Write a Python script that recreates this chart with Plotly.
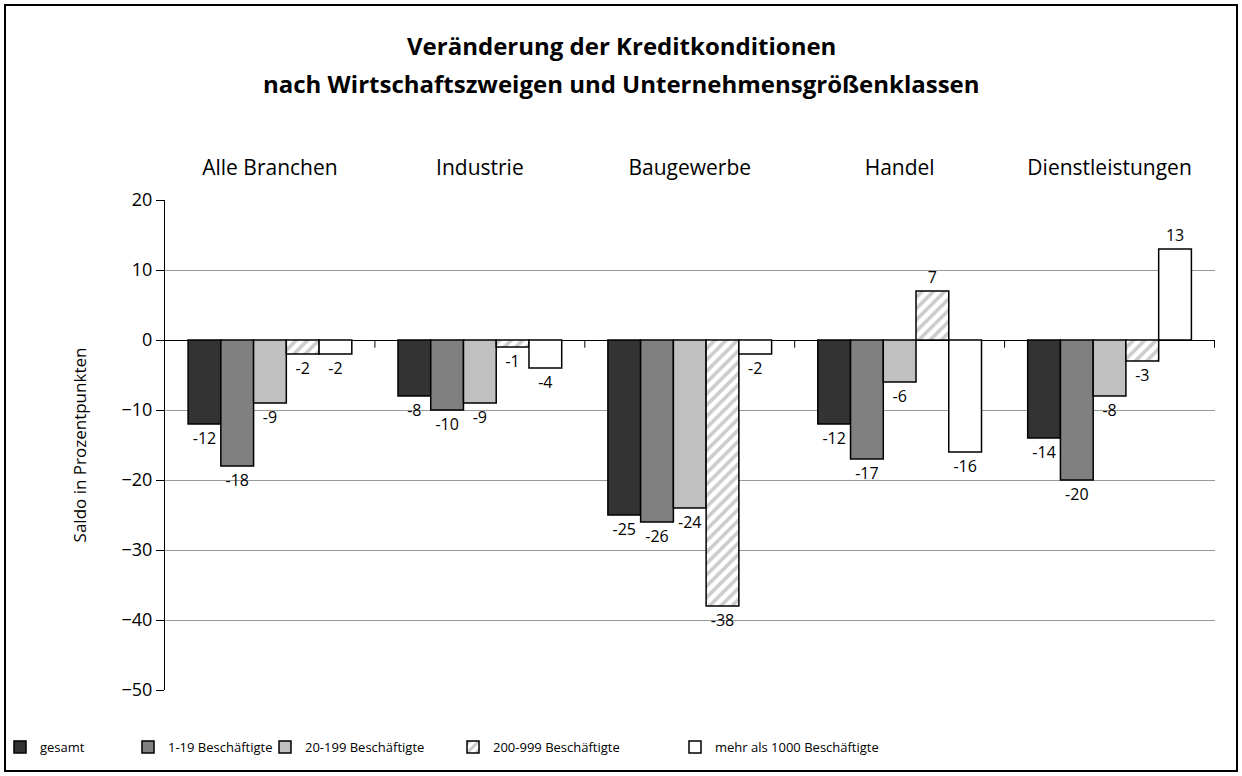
import plotly.graph_objs as go

# categories and series
branches = ['Alle Branchen', 'Industrie', 'Baugewerbe', 'Handel', 'Dienstleistungen']
gesamt = [-12, -8, -25, -12, -14]
b_1_19 = [-18, -10, -26, -17, -20]
b_20_199 = [-9, -9, -24, -6, -8]
b_200_999 = [-2, -1, -38, 7, -3]
b_1000 = [-2, -4, -2, -16, 13]

series_names = ['gesamt', '1-19 Beschäftigte', '20-199 Beschäftigte',
                '200-999 Beschäftigte', 'mehr als 1000 Beschäftigte']
series_values = [gesamt, b_1_19, b_20_199, b_200_999, b_1000]
fills = ['#333333', '#808080', '#c0c0c0', 'white', 'white']
title_lines = ['Veränderung der Kreditkonditionen',
               'nach Wirtschaftszweigen und Unternehmensgrößenklassen']

FONT = 'Open Sans'

# plot area in page pixels (page is 1242 x 776)
PW, PH = 1242, 776
L, R, T, B = 165, 1215, 200, 690
W, H = R - L, B - T


def px_x(x):
    return (x - L) / W


def px_y(y):
    return (B - y) / H


# left edge of each legend swatch in the reference
legend_x = [15, 143, 280, 468, 690]

fig = go.Figure()
for i, (name, vals, col) in enumerate(zip(series_names, series_values, fills)):
    marker = dict(color=col, line=dict(color='black', width=1.5))
    if name.startswith('200-999'):
        marker['pattern'] = dict(shape='/', fgcolor='#999999', bgcolor='white',
                                 size=8, solidity=0.45)
    leg = 'legend' if i == 0 else 'legend%d' % (i + 1)
    fig.add_trace(go.Bar(
        x=branches, y=vals, name=name,
        marker=marker,
        text=[str(v) for v in vals],
        textposition='outside',
        textfont=dict(size=16, color='black', family=FONT),
        cliponaxis=False,
        legend=leg,
    ))

# small tick marks on the zero line between the branch groups
for i in range(len(branches)):
    fig.add_shape(type='line', xref='x', yref='y',
                  x0=i + 0.5, x1=i + 0.5, y0=0, y1=-1.1,
                  line=dict(color='black', width=1))

# frame around the whole chart
fig.add_shape(type='rect', xref='paper', yref='paper',
              x0=px_x(5), x1=px_x(1237), y0=px_y(771), y1=px_y(5),
              line=dict(color='black', width=2), fillcolor='rgba(0,0,0,0)')

# two title lines
for txt, y in zip(title_lines, [45, 83]):
    fig.add_annotation(text='<b>' + txt + '</b>', xref='paper', yref='paper',
                       x=px_x(621), y=px_y(y), xanchor='center', yanchor='middle',
                       showarrow=False, font=dict(size=24, family=FONT, color='black'))

# one legend per series so each swatch can sit where it is in the reference
# (swatch is drawn ~15px right of the legend box's left edge)
legends = {}
for i, lx in enumerate(legend_x):
    key = 'legend' if i == 0 else 'legend%d' % (i + 1)
    legends[key] = dict(xref='container', yref='container',
                        x=max(lx - 15, 0) / PW, xanchor='left',
                        y=1 - 747 / PH, yanchor='middle',
                        orientation='h', bgcolor='rgba(0,0,0,0)',
                        font=dict(size=13, family=FONT, color='black'),
                        itemwidth=30)

fig.update_layout(
    width=PW, height=PH,
    margin=dict(l=L, r=PW - R, t=T, b=PH - B),
    paper_bgcolor='white', plot_bgcolor='white',
    font=dict(family=FONT, size=15, color='black'),
    barmode='group', bargap=0.22, bargroupgap=0,
    showlegend=True,
    xaxis=dict(side='top', showline=False, ticks='', showgrid=False,
               ticklabelstandoff=20, tickfont=dict(size=21, family=FONT)),
    yaxis=dict(range=[-50, 20], dtick=10, showgrid=True, gridcolor='#999999', gridwidth=1,
               zeroline=True, zerolinecolor='black', zerolinewidth=1,
               showline=True, linecolor='black', linewidth=1,
               ticks='outside', ticklen=8, tickcolor='black',
               tickfont=dict(size=18, family=FONT),
               title=dict(text='Saldo in Prozentpunkten', font=dict(size=17, family=FONT),
                          standoff=30)),
    **legends
)

fig.write_html('out.html', config={'displayModeBar': False},
               post_script="document.body.style.margin='0';")
